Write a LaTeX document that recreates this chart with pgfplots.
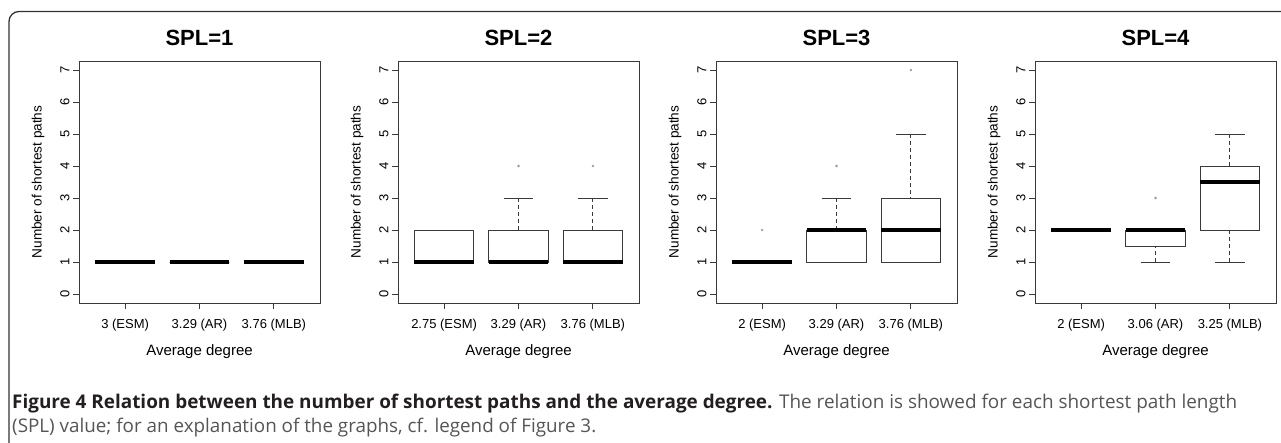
\documentclass[border=0pt]{standalone}
\usepackage{fontspec}
\usepackage{graphicx}
\usepackage{pgfplots}
\pgfplotsset{compat=1.18}
\usepgfplotslibrary{statistics}
\setmainfont{Liberation Sans}
\newfontfamily\capfont{Open Sans}
\definecolor{framec}{HTML}{333333}
\definecolor{boxc}{HTML}{3A3A3A}
\definecolor{captxt}{HTML}{555555}
\definecolor{capbold}{HTML}{231F20}

\pgfplotsset{
  spl/.style={
    scale only axis, width=241pt, height=242pt,
    anchor=south west,
    xmin=0.38, xmax=3.62, ymin=-0.28, ymax=7.28,
    xtick={1,2,3}, ytick={0,1,...,7},
    tick align=outside, major tick length=6pt,
    xtick pos=bottom, ytick pos=left,
    axis line style={boxc, line width=0.9pt},
    tick style={boxc, line width=0.9pt},
    tick label style={font=\fontsize{13}{15}\selectfont},
    xticklabel style={yshift=-7pt},
    yticklabel style={rotate=90, anchor=south},
    /pgf/number format/assume math mode=true,
    title style={font=\fontsize{22}{24}\selectfont\bfseries, yshift=6pt},
    xlabel style={font=\fontsize{15}{17}\selectfont, yshift=-6pt},
    ylabel style={font=\fontsize{13.6}{15}\selectfont, yshift=9pt},
    xlabel={Average degree}, ylabel={Number of shortest paths},
    boxplot/draw direction=y,
    boxplot/box extend=0.8, boxplot/whisker extend=0.4,
    boxplot/every box/.style={draw=boxc, line width=0.9pt, fill=white},
    boxplot/every median/.style={black, line width=3.8pt},
    boxplot/draw/lower whisker/.code={%
      \draw[boxc, line width=0.9pt, dash pattern=on 4pt off 3pt]
        (boxplot box cs:\pgfplotsboxplotvalue{lower whisker},0.5)
        -- (boxplot box cs:\pgfplotsboxplotvalue{lower quartile},0.5);
      \draw[boxc, line width=0.9pt]
        (boxplot whisker cs:\pgfplotsboxplotvalue{lower whisker},0)
        -- (boxplot whisker cs:\pgfplotsboxplotvalue{lower whisker},1);
    },
    boxplot/draw/upper whisker/.code={%
      \draw[boxc, line width=0.9pt, dash pattern=on 4pt off 3pt]
        (boxplot box cs:\pgfplotsboxplotvalue{upper whisker},0.5)
        -- (boxplot box cs:\pgfplotsboxplotvalue{upper quartile},0.5);
      \draw[boxc, line width=0.9pt]
        (boxplot whisker cs:\pgfplotsboxplotvalue{upper whisker},0)
        -- (boxplot whisker cs:\pgfplotsboxplotvalue{upper whisker},1);
    },
  },
  bx/.style={boxc, solid, mark=*, mark size=1pt,
    mark options={draw=gray!80, fill=gray!80}},
}

\begin{document}
\begin{tikzpicture}
\useasboundingbox (0,0) rectangle (1281pt,442pt);
\draw[framec, line width=1.3pt, rounded corners=10pt]
  (9pt,-30pt) -- (9pt,430.5pt) -- (1320pt,430.5pt);

% SPL=1
\begin{axis}[spl, at={(79pt,139pt)}, title={SPL=1},
  xticklabels={3 (ESM), 3.29 (AR), 3.76 (MLB)}]
\addplot[bx, boxplot prepared={draw position=1, median=1, lower quartile=1,
  upper quartile=1, lower whisker=1, upper whisker=1}] coordinates {};
\addplot[bx, boxplot prepared={draw position=2, median=1, lower quartile=1,
  upper quartile=1, lower whisker=1, upper whisker=1}] coordinates {};
\addplot[bx, boxplot prepared={draw position=3, median=1, lower quartile=1,
  upper quartile=1, lower whisker=1, upper whisker=1}] coordinates {};
\end{axis}

% SPL=2
\begin{axis}[spl, at={(398pt,139pt)}, title={SPL=2},
  xticklabels={2.75 (ESM), 3.29 (AR), 3.76 (MLB)}]
\addplot[bx, boxplot prepared={draw position=1, median=1, lower quartile=1,
  upper quartile=2, lower whisker=1, upper whisker=2}] coordinates {};
\addplot[bx, boxplot prepared={draw position=2, median=1, lower quartile=1,
  upper quartile=2, lower whisker=1, upper whisker=3}] coordinates {(0,4)};
\addplot[bx, boxplot prepared={draw position=3, median=1, lower quartile=1,
  upper quartile=2, lower whisker=1, upper whisker=3}] coordinates {(0,4)};
\end{axis}

% SPL=3
\begin{axis}[spl, at={(716pt,139pt)}, title={SPL=3},
  xticklabels={2 (ESM), 3.29 (AR), 3.76 (MLB)}]
\addplot[bx, boxplot prepared={draw position=1, median=1, lower quartile=1,
  upper quartile=1, lower whisker=1, upper whisker=1}] coordinates {(0,2)};
\addplot[bx, boxplot prepared={draw position=2, median=2, lower quartile=1,
  upper quartile=2, lower whisker=1, upper whisker=3}] coordinates {(0,4)};
\addplot[bx, boxplot prepared={draw position=3, median=2, lower quartile=1,
  upper quartile=3, lower whisker=1, upper whisker=5}] coordinates {(0,7)};
\end{axis}

% SPL=4
\begin{axis}[spl, at={(1035pt,139pt)}, title={SPL=4},
  xticklabels={2 (ESM), 3.06 (AR), 3.25 (MLB)}]
\addplot[bx, boxplot prepared={draw position=1, median=2, lower quartile=2,
  upper quartile=2, lower whisker=2, upper whisker=2}] coordinates {};
\addplot[bx, boxplot prepared={draw position=2, median=2, lower quartile=1.5,
  upper quartile=2, lower whisker=1, upper whisker=2}] coordinates {(0,3)};
\addplot[bx, boxplot prepared={draw position=3, median=3.5, lower quartile=2,
  upper quartile=4, lower whisker=1, upper whisker=5}] coordinates {};
\end{axis}

\node[anchor=base west, inner sep=0pt, font=\capfont\fontsize{14}{16}\selectfont]
  at (12pt,34pt) {\resizebox{1225pt}{!}{\textcolor{capbold}{\bfseries Figure 4 Relation between the number of shortest paths and the average degree.}
  \textcolor{captxt}{The relation is showed for each shortest path length}}};
\node[anchor=base west, inner sep=0pt, font=\capfont\fontsize{14}{16}\selectfont, text=captxt]
  at (12pt,10pt) {\resizebox{584pt}{!}{(SPL) value; for an explanation of the graphs, cf. legend of Figure 3.}};
\end{tikzpicture}
\end{document}
